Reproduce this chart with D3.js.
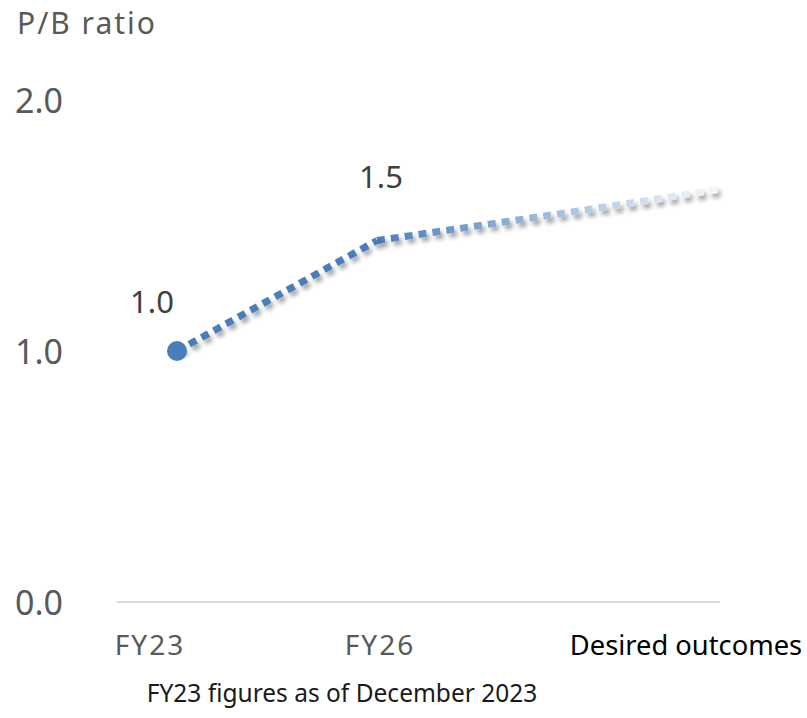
<!DOCTYPE html>
<html>
<head>
<meta charset="utf-8">
<script src="https://cdn.jsdelivr.net/npm/d3@7"></script>
<style>
  html, body { margin: 0; padding: 0; background: #fff; }
  svg { display: block; font-family: "Noto Sans", "Open Sans", sans-serif; }
</style>
</head>
<body>
<svg id="chart" width="807" height="718"></svg>
<script>
  // Chart data
  const categories = ['FY23', 'FY26', 'Desired outcomes'];
  const actualIdx = [0, 1];            // position along the period axis
  const actualValues = [1.0, 1.44];    // plotted P/B
  const actualLabels = ['1.0', '1.5']; // printed labels
  const desiredIdx = [1, 1.6, 2.15, 2.715];
  const desiredValues = [1.44, 1.51, 1.575, 1.645];
  const yTicks = [0, 1, 2];
  const footnote = 'FY23 figures as of December 2023';
  const yTitle = 'P/B ratio';

  const svg = d3.select('#chart');
  const BLUE = '#4a7ebb';

  // period index -> px (FY23 at 177, FY26 at 377)
  const x = d3.scaleLinear().domain([0, 1]).range([177, 377]);
  const y = d3.scaleLinear().domain([0, 2]).range([602, 100]);

  const defs = svg.append('defs');
  const shadow = defs.append('filter')
    .attr('id', 'shadow')
    .attr('x', '-20%').attr('y', '-20%')
    .attr('width', '140%').attr('height', '160%');
  shadow.append('feDropShadow')
    .attr('dx', 3).attr('dy', 4)
    .attr('stdDeviation', 2)
    .attr('flood-color', '#000')
    .attr('flood-opacity', 0.35);

  const fade = defs.append('linearGradient')
    .attr('id', 'fade')
    .attr('gradientUnits', 'userSpaceOnUse')
    .attr('x1', x(desiredIdx[0])).attr('x2', x(desiredIdx[desiredIdx.length - 1]))
    .attr('y1', 0).attr('y2', 0);
  fade.append('stop').attr('offset', '0%').attr('stop-color', BLUE);
  fade.append('stop').attr('offset', '100%').attr('stop-color', '#f7f9fc');

  // baseline
  svg.append('line')
    .attr('x1', 117).attr('x2', 720)
    .attr('y1', y(0)).attr('y2', y(0))
    .attr('stroke', '#d9d9d9')
    .attr('stroke-width', 2);

  // y tick labels
  svg.append('g').selectAll('text')
    .data(yTicks)
    .join('text')
    .attr('x', 63)
    .attr('y', (d) => y(d) + 1)
    .attr('dy', '0.36em')
    .attr('text-anchor', 'end')
    .attr('font-size', 34)
    .attr('fill', '#595959')
    .text((d) => d3.format('.1f')(d));

  svg.append('text')
    .attr('x', 17).attr('y', 34)
    .attr('font-size', 30)
    .attr('letter-spacing', 2)
    .attr('fill', '#595959')
    .text(yTitle);

  // category labels (offset from their period index)
  const labelIdx = [-0.135, 1.015, 2.545];
  svg.append('g').selectAll('text')
    .data(categories)
    .join('text')
    .attr('x', (d, i) => x(labelIdx[i]))
    .attr('y', 655)
    .attr('text-anchor', 'middle')
    .attr('font-size', (d, i) => (i === 2 ? 27.3 : 28))
    .attr('letter-spacing', (d, i) => (i === 2 ? 0 : 2))
    .attr('fill', (d, i) => (i === 2 ? '#000' : '#595959'))
    .text((d) => d);

  svg.append('text')
    .attr('x', 342).attr('y', 702)
    .attr('text-anchor', 'middle')
    .attr('font-size', 24.5)
    .attr('fill', '#1a1a1a')
    .text(footnote);

  const line = d3.line()
    .x((d) => x(d[0]))
    .y((d) => y(d[1]));

  // fading "desired" segment
  svg.append('path')
    .datum(desiredIdx.map((d, i) => [d, desiredValues[i]]))
    .attr('d', line.curve(d3.curveMonotoneX))
    .attr('fill', 'none')
    .attr('stroke', 'url(#fade)')
    .attr('stroke-width', 7)
    .attr('stroke-dasharray', '8,6')
    .attr('filter', 'url(#shadow)');

  // actual segment
  svg.append('path')
    .datum(actualIdx.map((d, i) => [d, actualValues[i]]))
    .attr('d', line.curve(d3.curveLinear))
    .attr('fill', 'none')
    .attr('stroke', BLUE)
    .attr('stroke-width', 7)
    .attr('stroke-dasharray', '8,6')
    .attr('filter', 'url(#shadow)');

  svg.append('circle')
    .attr('cx', x(actualIdx[0]))
    .attr('cy', y(actualValues[0]))
    .attr('r', 10)
    .attr('fill', BLUE);

  // data labels
  const labelOffsets = [[-25, -49], [4, -64]];
  svg.append('g').selectAll('text')
    .data(actualLabels)
    .join('text')
    .attr('x', (d, i) => x(actualIdx[i]) + labelOffsets[i][0])
    .attr('y', (d, i) => y(actualValues[i]) + labelOffsets[i][1])
    .attr('dy', '0.36em')
    .attr('text-anchor', 'middle')
    .attr('font-size', 31)
    .attr('fill', '#404040')
    .text((d) => d);
</script>
</body>
</html>
